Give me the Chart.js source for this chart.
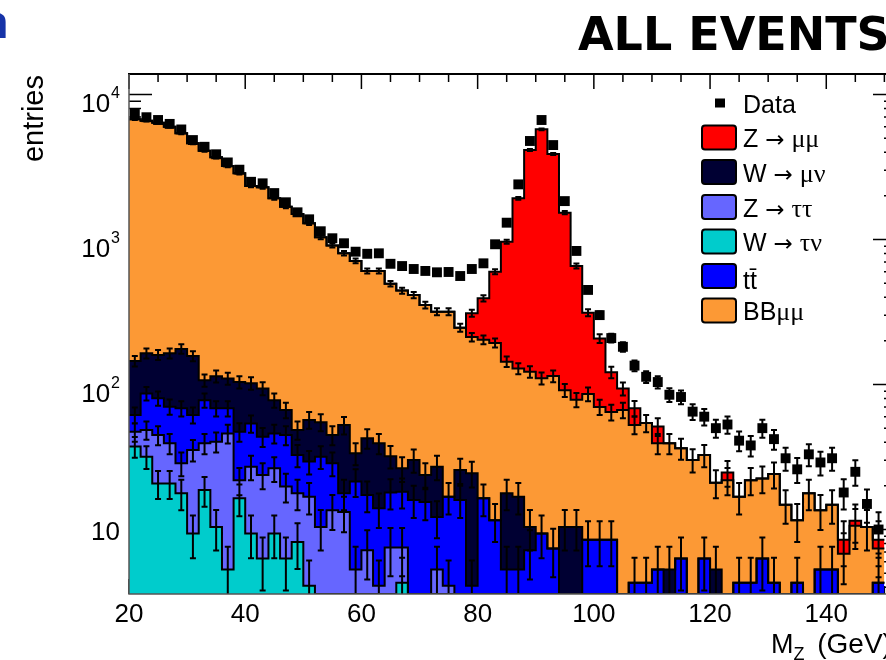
<!DOCTYPE html>
<html><head><meta charset="utf-8">
<script src="https://cdn.jsdelivr.net/npm/chart.js@4"></script>
<style>
html,body{margin:0;padding:0;overflow:hidden;background:#fff;width:886px;height:660px}
#wrap{position:absolute;left:0;top:0;width:910px;height:660px}
canvas{display:block}
</style></head>
<body><div id="wrap"><canvas id="c" width="910" height="660"></canvas></div>
<script>
// ---- bins (lower edges, GeV) ----
const binLow = [20,22,24,26,28,30,32,34,36,38,40,42,44,46,48,50,52,54,56,58,60,62,64,66,68,70,72,74,76,78,80,82,84,86,88,90,92,94,96,98,100,102,104,106,108,110,112,114,116,118,120,122,124,126,128,130,132,134,136,138,140,142,144,146,148];
const binHigh = 150;

// ---- MC components (entries per bin), stacked bottom -> top ----
const wTauNu = [37.3,31.8,20.8,20.8,17.8,9.4,18.7,10.4,5.3,16.4,9.4,6.3,9.4,6.3,8.2,4.1,0,0,0,0,0,0,0,4.3,0,0,0,0,0,0,0,0,0,0,0,0,0,0,0,0,0,0,0,0,0,0,0,0,0,0,0,0,0,0,0,0,0,0,0,0,0,0,0,0,0];
const zTauTau = [9.9,16.7,24,18.5,10.8,26,20.6,29.9,40.7,5.5,17.7,17.5,17,13.5,9.6,12.7,10.4,13.6,13.2,5.3,7.2,4.1,7.5,3.2,0,0,5.3,4.1,0,0,0,0,0,0,0,0,0,0,0,0,0,0,0,0,0,0,0,0,0,0,0,0,0,0,0,0,0,0,0,0,0,0,0,0,0];
const ttbar = [14.4,38.3,35.6,31,39.9,26.2,38.7,28.2,22.5,25.3,26.8,19.8,19.6,25,14.8,12.6,21.4,15,4.6,16.1,10.1,9.9,10.5,10.7,16,15.5,6.9,12.7,16,4.1,16.4,11.6,5.3,5.3,7.2,9.4,7.4,0,0,8.5,8.5,8.5,0,4.3,4.3,5.3,0,6.3,0,6.3,0,0,4.3,4.3,6.3,4.3,0,4.3,0,5.3,5.3,0,0,0,4.3];
const wMuNu = [83.4,77.2,79.6,93.7,107.5,95.4,29,45.5,41.5,56.8,48.1,50.4,32,21.8,16,27.6,23.2,16.2,34.7,12.1,25.3,25.3,14,8.2,14.1,8.3,14.9,0,9.7,20.3,0,0,12.5,11.5,3.2,0,0,10.4,10.4,0,0,0,0,0,0,0,5.3,0,0,0,5.3,0,0,0,0,0,0,0,0,0,0,0,0,0,0];
const bbMuMu = [6600,6433,6232,5834,5225,4448,3988,3572,3101,2758,2238,2197,1845,1616,1451,1237,981,865,752,678,564,568,464,418,384,329,291,301,221,188,187,182,126,112,112,101,107,81,68,77.5,61.5,56,66.7,48.3,49.9,34,34,30,30.2,26.3,15.7,21.9,12.5,17.6,16.2,19.8,14.8,7.3,17.8,8.3,9.5,6.8,10.6,10.4,3.1];
const zMuMu = [0,0,0,0,0,0,0,0,0,0,0,0,0,0,0,0,0,0,0,0,0,0,0,0,0,0,0,0,0,98,190,406,822,1794,4018,5644,3776,1439,578,227,138,57,27,16,0,12,0,0,0,0,0,2.8,0,0,0,0,0,0,0,0,0,1.7,0.9,0,1.1];

// ---- data (entries per bin) ----
const dataCounts = [7340,6970,6670,6270,5740,4850,4360,3870,3400,3030,2500,2440,2090,1806,1540,1378,1140,1020,942,824,797,803,680,656,626,607,594,597,560,626,685,927,1306,2400,4780,6670,4480,1840,834,449,301,209,182,135,113,104,85,82,65,60,50,53,41,38,50,42,31,26,33,29,31,18,25,15,10];

// ---- ticks / labels ----
const xTickValues = [20,40,60,80,100,120,140];
const xTickLabels = ['20','40','60','80','100','120','140'];
const yTickValues = [10,100,1000,10000];
const yTickBase = ['10','10','10','10'];
const yTickExp = ['','2','3','4'];
const legendLabels = ['Data','Z → μμ','W → μν','Z → ττ','W → τν','tt\u0304','BBμμ'];

const yMin = Math.pow(10,0.5552), yMax = Math.pow(10,4.1414);

const layers = [
  {name:'W → τν', values:wTauNu, color:'#00cccc'},
  {name:'Z → ττ', values:zTauTau, color:'#6666ff'},
  {name:'tt\u0304', values:ttbar, color:'#0000ff'},
  {name:'W → μν', values:wMuNu, color:'#000033'},
  {name:'BBμμ', values:bbMuMu, color:'#fc9935'},
  {name:'Z → μμ', values:zMuMu, color:'#ff0000'}
];
const cum = [];
let run = binLow.map(()=>0);
layers.forEach(l=>{ run = run.map((v,i)=>v+l.values[i]); cum.push(run.slice()); });

function stepPoints(arr){
  const pts = binLow.map((x,i)=>({x:x, y: arr[i]>0 ? arr[i] : yMin}));
  pts.push({x:binHigh, y:pts[pts.length-1].y});
  return pts;
}
const datasets = layers.map((l,k)=>({
  type:'line', label:l.name, data:stepPoints(cum[k]), stepped:true,
  fill: k===0 ? 'start' : '-1', backgroundColor:l.color, borderColor:'#000',
  borderWidth:2, pointRadius:0, order:10
}));
datasets.push({
  type:'line', label:'Data', data:dataCounts.map((v,i)=>({x:binLow[i]+1, y:v})),
  showLine:false, pointStyle:'rect', pointRadius:7, pointBackgroundColor:'#000',
  pointBorderColor:'#000', pointBorderWidth:0, order:0
});

const SANS = '"Liberation Sans", Arial, sans-serif';

function drawRuns(ctx, text, x, y, size){
  const runs = [];
  for (const ch of text){
    const c = ch.codePointAt(0);
    const cls = (c>=0x370 && c<=0x3ff) ? 'g' : (c===0x2192 ? 'a' : 'n');
    if (runs.length && runs[runs.length-1].cls===cls) runs[runs.length-1].t += ch;
    else runs.push({cls, t:ch});
  }
  ctx.textAlign='left';
  for (const r of runs){
    if (r.cls==='g') ctx.font = (size+1)+'px "Liberation Serif", serif';
    else if (r.cls==='a') ctx.font = (size-2)+'px "DejaVu Sans", sans-serif';
    else ctx.font = size+'px '+SANS;
    ctx.fillText(r.t, x, y);
    x += ctx.measureText(r.t).width;
  }
}

const rootPlugin = {
  id:'rootStyle',
  beforeDraw(chart){
    const {ctx, chartArea:a, scales:{x,y}} = chart;
    ctx.save();
    ctx.fillStyle='#fff'; ctx.fillRect(0,0,chart.width,chart.height);
    ctx.strokeStyle='#000'; ctx.lineWidth=1.5;
    ctx.beginPath();
    for (let v=20; v<=152; v+=5){
      const px = x.getPixelForValue(v);
      const L = (v%20===0) ? 15 : 8;
      ctx.moveTo(px,a.top); ctx.lineTo(px,a.top+L);
      ctx.moveTo(px,a.bottom); ctx.lineTo(px,a.bottom-L);
    }
    for (let d=0; d<=4; d++){
      for (let m=1; m<=9; m++){
        const v = m*Math.pow(10,d);
        if (v<y.min || v>y.max) continue;
        const py = y.getPixelForValue(v);
        const L = m===1 ? 23 : 12;
        ctx.moveTo(a.left,py); ctx.lineTo(a.left+L,py);
        ctx.moveTo(a.right,py); ctx.lineTo(a.right-L,py);
      }
    }
    ctx.stroke();
    ctx.restore();
  },
  afterDatasetsDraw(chart){
    const {ctx, chartArea:a, scales:{x,y}} = chart;
    ctx.save();
    ctx.beginPath(); ctx.rect(a.left,a.top,a.right-a.left,a.bottom-a.top); ctx.clip();
    ctx.strokeStyle='#000'; ctx.lineWidth=2;
    const cap=3;
    function bar(xv, v, e){
      const px = x.getPixelForValue(xv);
      const lo = v-e;
      const pt = y.getPixelForValue(v+e);
      const pb = lo>0 ? y.getPixelForValue(lo) : a.bottom+5;
      ctx.moveTo(px,pt); ctx.lineTo(px,pb);
      ctx.moveTo(px-cap,pt); ctx.lineTo(px+cap,pt);
      ctx.moveTo(px-cap,pb); ctx.lineTo(px+cap,pb);
    }
    ctx.beginPath();
    layers.forEach((l,k)=>{
      binLow.forEach((b,i)=>{ if (l.values[i]>0) bar(b+1, cum[k][i], Math.sqrt(cum[k][i])); });
    });
    dataCounts.forEach((v,i)=>{ if (v>0) bar(binLow[i]+1, v, Math.sqrt(v)); });
    ctx.stroke();
    ctx.restore();
    // frame
    ctx.save();
    ctx.lineWidth=2; ctx.strokeStyle='#000';
    ctx.beginPath(); ctx.moveTo(a.left-1,a.top); ctx.lineTo(a.right,a.top); ctx.stroke();
    ctx.lineWidth=1.5; ctx.strokeStyle='#555';
    ctx.beginPath(); ctx.moveTo(a.left,a.top); ctx.lineTo(a.left,a.bottom); ctx.lineTo(a.right,a.bottom); ctx.stroke();
    ctx.restore();
  },
  afterDraw(chart){
    const {ctx, chartArea:a, scales:{x,y}} = chart;
    ctx.save();
    ctx.fillStyle='#000';
    // x tick labels
    ctx.font='26px '+SANS; ctx.textAlign='center'; ctx.textBaseline='alphabetic';
    xTickValues.forEach((v,i)=>{ ctx.fillText(xTickLabels[i], x.getPixelForValue(v), 622); });
    // y tick labels
    yTickValues.forEach((v,i)=>{
      const py = y.getPixelForValue(v);
      const right = 120;
      if (!yTickExp[i]){
        ctx.font='26px '+SANS; ctx.textAlign='right';
        ctx.fillText(yTickBase[i], right, py+10);
      } else {
        ctx.font='16px '+SANS; ctx.textAlign='left';
        const ew = ctx.measureText(yTickExp[i]).width;
        ctx.fillText(yTickExp[i], right-ew, py+3);
        ctx.font='26px '+SANS; ctx.textAlign='right';
        ctx.fillText(yTickBase[i], right-ew-1, py+17);
      }
    });
    // y title
    ctx.save();
    ctx.translate(43,75); ctx.rotate(-Math.PI/2);
    ctx.font='29px '+SANS; ctx.textAlign='right';
    ctx.fillText('entries',0,0);
    ctx.restore();
    // x title
    ctx.textAlign='left';
    ctx.font='27px '+SANS; ctx.fillText('M',771,653);
    let xx = 771+ctx.measureText('M').width;
    ctx.font='18px '+SANS; ctx.fillText('Z',xx,660);
    xx += ctx.measureText('Z').width + 5;
    ctx.font='28px '+SANS; ctx.fillText(' (GeV)',xx,653);
    // main title
    ctx.font='bold 46px "DejaVu Sans", sans-serif'; ctx.textAlign='left';
    ctx.fillText('ALL EVENTS',578,50);
    // partial blue glyph at top-left (cropped neighbour title)
    ctx.fillStyle='#1633a8';
    ctx.font='bold 44px "Open Sans", sans-serif';
    ctx.fillText('n',-20,38);
    // legend
    const rowY = [103,137.5,172,207,241.5,276,310.5];
    const colors = [null,'#ff0000','#000033','#6666ff','#00cccc','#0000ff','#fc9935'];
    legendLabels.forEach((lab,i)=>{
      const cy = rowY[i];
      if (i===0){
        ctx.fillStyle='#000'; ctx.fillRect(715,cy-4.5,10,9);
      } else {
        ctx.fillStyle=colors[i];
        ctx.beginPath(); ctx.roundRect(702,cy-12,34,24,3); ctx.fill();
        ctx.lineWidth=2; ctx.strokeStyle='#000'; ctx.stroke();
      }
      ctx.fillStyle='#000';
      drawRuns(ctx, lab, 743, cy + (i===5 ? 13 : 9.5), 25);
    });
    ctx.restore();
  }
};

new Chart(document.getElementById('c'), {
  type:'line',
  data:{datasets},
  options:{
    responsive:false, animation:false, devicePixelRatio:1, events:[],
    layout:{padding:{left:129,right:14,top:74,bottom:66}},
    scales:{
      x:{type:'linear', min:20, max:152, display:false},
      y:{type:'logarithmic', min:yMin, max:yMax, display:false}
    },
    plugins:{legend:{display:false}, tooltip:{enabled:false}, title:{display:false},
      filler:{drawTime:'beforeDatasetsDraw'}}
  },
  plugins:[rootPlugin]
});
</script>
</body></html>
